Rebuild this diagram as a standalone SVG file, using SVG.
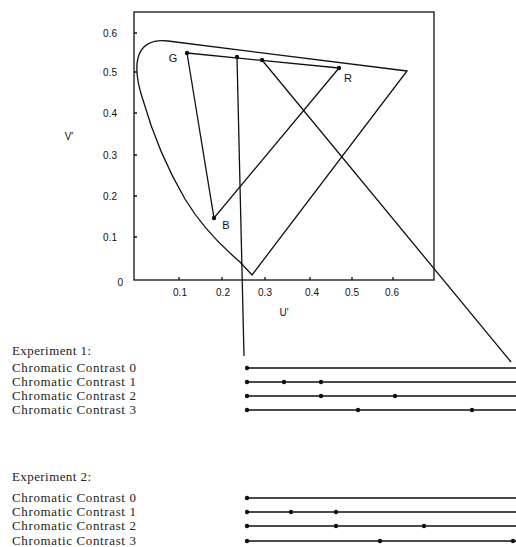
<svg xmlns="http://www.w3.org/2000/svg" width="516" height="547" viewBox="0 0 516 547">
<style>
.ln{fill:none;stroke:#111;stroke-width:1.3}
.dot{fill:#111}
.ax{font-family:"Liberation Sans",Arial,sans-serif;font-size:10px;fill:#111}
.lab{font-family:"Liberation Sans",Arial,sans-serif;font-size:11px;fill:#111}
.tx{font-family:"Liberation Serif","Times New Roman",serif;font-size:13px;fill:#222}
</style>
<rect width="516" height="547" fill="#fff"/>
<g id="plot">
<rect x="134" y="12" width="300" height="268" class="ln"/>
<path class="ln" d="M134,33h3M134,72h3M134,113h3M134,155h3M134,196h3M134,237h3M179,280v-3M222,280v-3M265,280v-3M310,280v-3M352,280v-3M393,280v-3"/>
<g class="ax">
<text x="117" y="37" text-anchor="end">0.6</text>
<text x="117" y="76" text-anchor="end">0.5</text>
<text x="117" y="117" text-anchor="end">0.4</text>
<text x="117" y="159" text-anchor="end">0.3</text>
<text x="117" y="200" text-anchor="end">0.2</text>
<text x="117" y="241" text-anchor="end">0.1</text>
<text x="123" y="286" text-anchor="end">0</text>
<text x="180" y="296" text-anchor="middle">0.1</text>
<text x="223" y="296" text-anchor="middle">0.2</text>
<text x="265" y="296" text-anchor="middle">0.3</text>
<text x="312" y="296" text-anchor="middle">0.4</text>
<text x="352" y="296" text-anchor="middle">0.5</text>
<text x="392" y="296" text-anchor="middle">0.6</text>
<text x="284" y="316" text-anchor="middle">U'</text>
<text x="69" y="140" text-anchor="middle">V'</text>
</g>
</g>
<g id="locus">
<path class="ln" d="M407,71 L168,41 C152,39 141,45 138,58 C135,70 138,85 143,100 C153,135 168,170 185,199 C200,224 220,245 240,262 L252,275 Z"/>
</g>
<g id="gamut">
<path class="ln" d="M187,53 L339,68 M187,53 L214,218 L339,68"/>
<circle class="dot" cx="187" cy="53" r="2.2"/>
<circle class="dot" cx="339" cy="68" r="2.2"/>
<circle class="dot" cx="214" cy="218" r="2.2"/>
<text class="lab" x="173" y="62" text-anchor="middle">G</text>
<text class="lab" x="348" y="82" text-anchor="middle">R</text>
<text class="lab" x="226" y="229" text-anchor="middle">B</text>
</g>
<g id="connectors">
<path class="ln" d="M237,57 L244,356 M262,60 L511,362"/>
<circle class="dot" cx="237" cy="57" r="2.2"/>
<circle class="dot" cx="262" cy="60" r="2.2"/>
</g>
<g id="experiment1">
<text class="tx" x="12" y="355" textLength="79">Experiment 1:</text>
<text class="tx" x="12" y="372" textLength="124">Chromatic Contrast 0</text>
<text class="tx" x="12" y="386" textLength="124">Chromatic Contrast 1</text>
<text class="tx" x="12" y="400" textLength="124">Chromatic Contrast 2</text>
<text class="tx" x="12" y="414" textLength="124">Chromatic Contrast 3</text>
<path class="ln" d="M247,368H516M247,382H516M247,396H516M247,410H516"/>
<g class="dot">
<circle cx="247" cy="368" r="2.2"/>
<circle cx="247" cy="382" r="2.2"/><circle cx="284" cy="382" r="2.2"/><circle cx="321" cy="382" r="2.2"/>
<circle cx="247" cy="396" r="2.2"/><circle cx="321" cy="396" r="2.2"/><circle cx="395" cy="396" r="2.2"/>
<circle cx="247" cy="410" r="2.2"/><circle cx="358" cy="410" r="2.2"/><circle cx="472" cy="410" r="2.2"/>
</g>
</g>
<g id="experiment2">
<text class="tx" x="12" y="481" textLength="79">Experiment 2:</text>
<text class="tx" x="12" y="502" textLength="124">Chromatic Contrast 0</text>
<text class="tx" x="12" y="516" textLength="124">Chromatic Contrast 1</text>
<text class="tx" x="12" y="530" textLength="124">Chromatic Contrast 2</text>
<text class="tx" x="12" y="545" textLength="124">Chromatic Contrast 3</text>
<path class="ln" d="M247,498H516M247,512H516M247,526H516M247,541H516"/>
<g class="dot">
<circle cx="247" cy="498" r="2.2"/>
<circle cx="247" cy="512" r="2.2"/><circle cx="291" cy="512" r="2.2"/><circle cx="336" cy="512" r="2.2"/>
<circle cx="247" cy="526" r="2.2"/><circle cx="336" cy="526" r="2.2"/><circle cx="424" cy="526" r="2.2"/>
<circle cx="247" cy="541" r="2.2"/><circle cx="380" cy="541" r="2.2"/><circle cx="513" cy="541" r="2.2"/>
</g>
</g>
</svg>
